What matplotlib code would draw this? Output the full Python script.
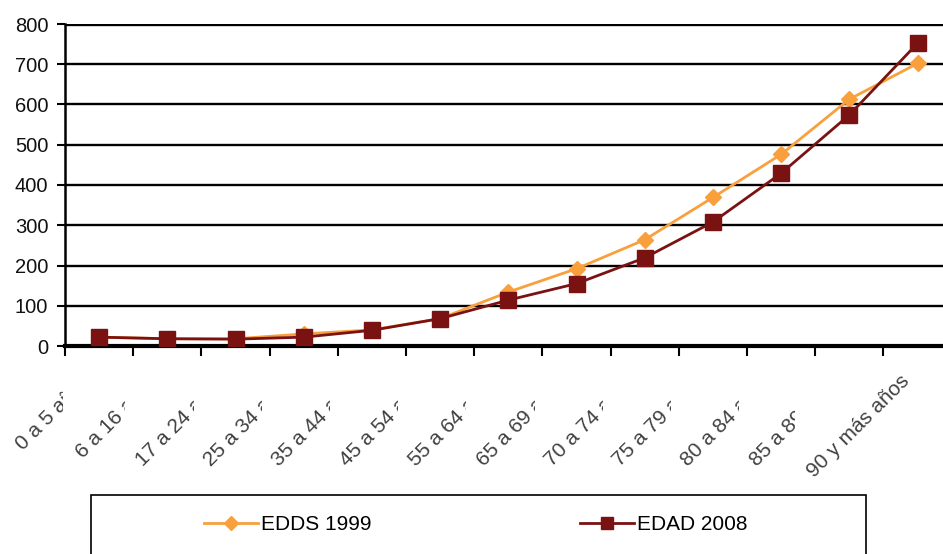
import matplotlib
matplotlib.use("Agg")
import matplotlib.pyplot as plt
from matplotlib.patches import Rectangle
from matplotlib.transforms import Bbox, TransformedBbox, blended_transform_factory
import numpy as np

categories = ["0 a 5 años", "6 a 16 años", "17 a 24 años", "25 a 34 años", "35 a 44 años",
              "45 a 54 años", "55 a 64 años", "65 a 69 años", "70 a 74 años", "75 a 79 años",
              "80 a 84 años", "85 a 89 años", "90 y más años"]
edds_1999 = [22, 18, 18, 30, 40, 68, 134, 192, 264, 369, 476, 613, 702]
edad_2008 = [22, 18, 17, 22, 39, 68, 114, 155, 219, 308, 429, 574, 752]
yticks = [0, 100, 200, 300, 400, 500, 600, 700, 800]

plt.rcParams['font.family'] = ['Liberation Sans', 'DejaVu Sans']

fig = plt.figure(figsize=(9.43, 5.54), dpi=100)
ax = fig.add_axes([65/943, 1-346/554, (951.6-65)/943, (346-24)/554])

x = np.arange(len(categories))
ax.plot(x, edds_1999, color='#F9A03C', lw=2, marker='D', ms=8.5,
        mfc='#F9A03C', mec='#F9A03C', label='EDDS 1999', zorder=3)
ax.plot(x, edad_2008, color='#7A1212', lw=2, marker='s', ms=11,
        mfc='#7A1212', mec='#7A1212', label='EDAD 2008', zorder=4)

ax.set_xlim(-0.5, len(categories)-0.5)
ax.set_ylim(0, 800)
ax.set_yticks(yticks)
ax.set_yticklabels([str(v) for v in yticks], fontsize=14.5, color='#111111')
for v in yticks[1:-1]:
    ax.axhline(v, color='black', lw=1.7, zorder=1)
ax.axhline(800, color='black', lw=2.4, zorder=1)

# category labels (rotated, clipped like the original spreadsheet rendering)
ax.set_xticks(x)
ax.set_xticklabels([])
ax.tick_params(axis='x', which='major', length=0)
bt = blended_transform_factory(ax.transData, ax.transAxes)
unit_px = (951.6 - 65) / len(categories)
axes_h_px = 346 - 24
clip_px = [36, 42, 42, 42, 42, 42, 42, 42, 42, 42, 42, 54, None]
for i, lab in enumerate(categories):
    t = ax.text(i - 18/unit_px, -25/axes_h_px, lab, transform=bt, rotation=45,
                rotation_mode='anchor', ha='right', va='top', fontsize=15,
                color='#404040', clip_on=False)
    if clip_px[i] is not None:
        cb = TransformedBbox(Bbox([[-5, -5], [i - clip_px[i]/unit_px, 0]]), bt)
        t.set_clip_box(cb)
        t.set_clip_on(True)

ax.set_xticks(np.arange(-0.5, len(categories)-0.5, 1), minor=True)
ax.tick_params(axis='x', which='minor', length=7, width=1.5, color='black')
ax.tick_params(axis='y', length=6, width=1.5, color='black', pad=6)

for s in ['top', 'right']:
    ax.spines[s].set_visible(False)
ax.spines['left'].set_linewidth(1.8)
ax.spines['bottom'].set_linewidth(3)

fig.patches.append(Rectangle((91/943, -0.05), (866-91)/943, 0.05+1-495/554,
                             transform=fig.transFigure, fill=False,
                             edgecolor='black', lw=1.2, clip_on=False))
fig.legend(loc='center', bbox_to_anchor=(476/943, 1-525/554), ncol=2,
           frameon=False, fontsize=15, handlelength=2.6, handletextpad=0.15,
           columnspacing=10, markerscale=0.85)

fig.savefig('out.png', dpi=100, facecolor='white')
